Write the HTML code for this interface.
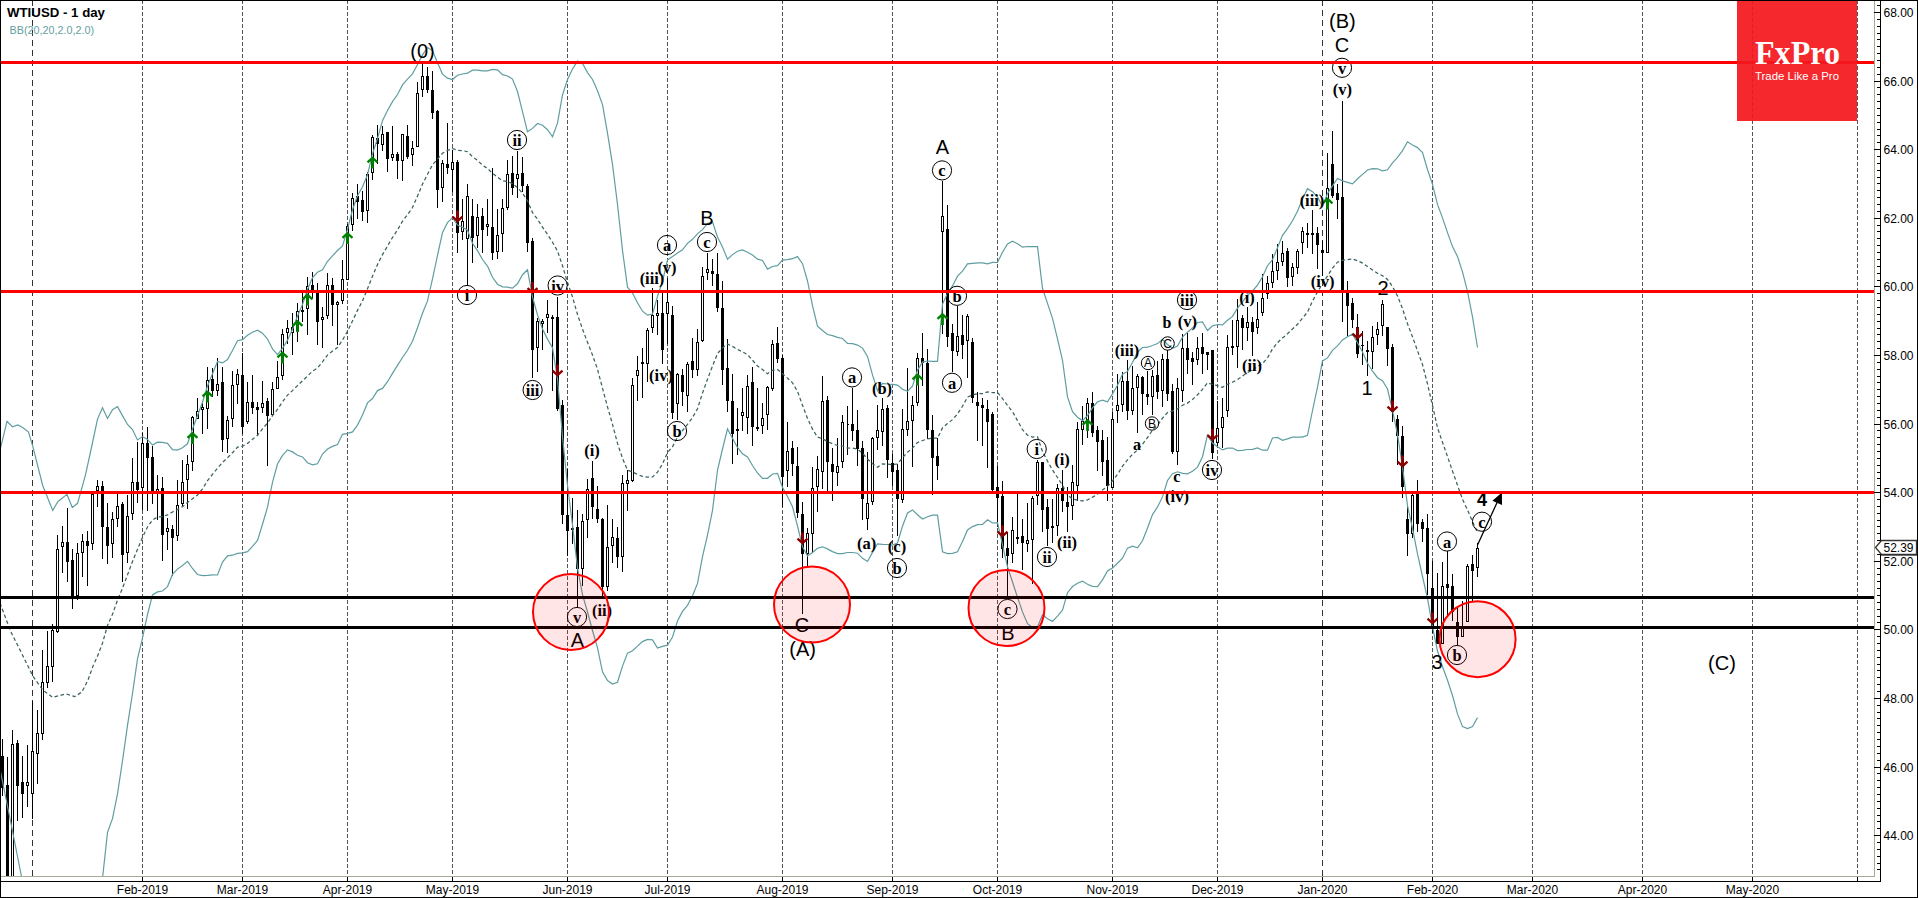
<!DOCTYPE html><html><head><meta charset="utf-8"><title>WTIUSD - 1 day</title>
<style>html,body{margin:0;padding:0;background:#fff;overflow:hidden}svg{display:block}.ar{font-family:"Liberation Sans",Arial,sans-serif}.tm{font-family:"Liberation Serif","Times New Roman",serif;font-weight:bold}</style></head><body>
<svg width="1918" height="898" viewBox="0 0 1918 898">
<rect x="0" y="0" width="1918" height="898" fill="#fff"/>
<g stroke-width="1" shape-rendering="crispEdges">
<line x1="32.5" y1="0" x2="32.5" y2="876" stroke="#333" stroke-dasharray="6,4"/>
<line x1="142.5" y1="0" x2="142.5" y2="876" stroke="#555" stroke-dasharray="4,2"/>
<line x1="242.5" y1="0" x2="242.5" y2="876" stroke="#555" stroke-dasharray="4,2"/>
<line x1="347.5" y1="0" x2="347.5" y2="876" stroke="#555" stroke-dasharray="4,2"/>
<line x1="452.5" y1="0" x2="452.5" y2="876" stroke="#555" stroke-dasharray="4,2"/>
<line x1="567.5" y1="0" x2="567.5" y2="876" stroke="#555" stroke-dasharray="4,2"/>
<line x1="667.5" y1="0" x2="667.5" y2="876" stroke="#555" stroke-dasharray="4,2"/>
<line x1="782.5" y1="0" x2="782.5" y2="876" stroke="#555" stroke-dasharray="4,2"/>
<line x1="892.5" y1="0" x2="892.5" y2="876" stroke="#555" stroke-dasharray="4,2"/>
<line x1="997.5" y1="0" x2="997.5" y2="876" stroke="#555" stroke-dasharray="4,2"/>
<line x1="1112.5" y1="0" x2="1112.5" y2="876" stroke="#555" stroke-dasharray="4,2"/>
<line x1="1217.5" y1="0" x2="1217.5" y2="876" stroke="#555" stroke-dasharray="4,2"/>
<line x1="1322.5" y1="0" x2="1322.5" y2="876" stroke="#333" stroke-dasharray="6,4"/>
<line x1="1432.5" y1="0" x2="1432.5" y2="876" stroke="#555" stroke-dasharray="4,2"/>
<line x1="1532.5" y1="0" x2="1532.5" y2="876" stroke="#555" stroke-dasharray="4,2"/>
<line x1="1642.5" y1="0" x2="1642.5" y2="876" stroke="#555" stroke-dasharray="4,2"/>
<line x1="1752.5" y1="0" x2="1752.5" y2="876" stroke="#555" stroke-dasharray="4,2"/>
<line x1="1857.5" y1="0" x2="1857.5" y2="876" stroke="#555" stroke-dasharray="4,2"/>
</g>
<clipPath id="cp"><rect x="1" y="1" width="1873" height="875"/></clipPath>
<g clip-path="url(#cp)" shape-rendering="crispEdges">
<path d="M2.5 739V796M7.5 757V900M12.5 730V900M17.5 740V821M22.5 756V818M27.5 745V807M32.5 701V819M37.5 710V784M42.5 650V740M47.5 631V688M52.5 624V682M57.5 535V633M62.5 526V573M67.5 508V582M72.5 549V609M77.5 543V600M82.5 534V577M87.5 531V586M92.5 491V550M97.5 480V507M102.5 481V559M107.5 503V564M112.5 512V558M117.5 494V527M122.5 502V582M127.5 495V563M132.5 458V520M137.5 442V503M142.5 433V510M147.5 427V511M152.5 446V504M157.5 475V520M162.5 477V561M167.5 518V550M172.5 525V576M177.5 480V541M182.5 460V506M187.5 455V509M192.5 416V471M197.5 398V419M202.5 403V434M207.5 367V429M212.5 368V397M217.5 358V396M222.5 367V452M227.5 416V453M232.5 371V427M237.5 369V404M242.5 353V434M247.5 382V424M252.5 375V414M257.5 402V435M262.5 381V413M267.5 398V466M272.5 382V416M277.5 361V389M282.5 329V380M287.5 320V344M292.5 313V355M297.5 303V342M302.5 293V322M307.5 277V335M312.5 272V298M317.5 283V345M322.5 307V348M327.5 273V319M332.5 278V326M337.5 301V345M342.5 260V304M347.5 224V280M352.5 193V231M357.5 184V219M362.5 191V221M367.5 172V223M372.5 135V180M377.5 125V164M382.5 126V151M387.5 132V172M392.5 126V161M397.5 152V179M402.5 134V181M407.5 125V159M412.5 141V166M417.5 82V147M422.5 64V97M427.5 67V93M432.5 71V119M437.5 110V208M442.5 160V202M447.5 123V174M452.5 150V192M457.5 160V253M462.5 199V240M467.5 184V286M472.5 199V263M477.5 204V248M482.5 208V253M487.5 199V236M492.5 168V260M497.5 209V259M502.5 199V252M507.5 160V210M512.5 156V195M517.5 151V198M522.5 157V192M527.5 184V252M532.5 238V378M537.5 318V372M542.5 319V350M547.5 300V333M552.5 315V391M557.5 297V411M562.5 400V524M567.5 469V556M572.5 498V544M577.5 510V608M582.5 514V586M587.5 479V538M592.5 461V519M597.5 486V523M602.5 518V596M607.5 505V591M612.5 519V563M617.5 527V568M622.5 475V572M627.5 470V511M632.5 378V482M637.5 356V401M642.5 348V398M647.5 328V382M652.5 288V333M657.5 300V335M662.5 293V364M667.5 278V344M672.5 306V419M677.5 373V420M682.5 369V406M687.5 362V412M692.5 338V378M697.5 329V376M702.5 267V342M707.5 253V280M712.5 259V286M717.5 253V312M722.5 281V385M727.5 339V412M732.5 374V464M737.5 408V455M742.5 388V431M747.5 375V434M752.5 367V446M757.5 388V431M762.5 403V434M767.5 386V430M772.5 340V391M777.5 327V363M782.5 355V507M787.5 422V487M792.5 441V476M797.5 447V518M802.5 502V614M807.5 528V567M812.5 467V553M817.5 456V512M822.5 376V489M827.5 396V491M832.5 448V501M837.5 438V486M842.5 415V468M847.5 406V455M852.5 388V441M857.5 410V466M862.5 441V520M867.5 452V530M872.5 437V505M877.5 405V450M882.5 398V446M887.5 405V478M892.5 454V486M897.5 464V536M902.5 409V503M907.5 368V436M912.5 396V467M917.5 353V406M922.5 333V386M927.5 349V439M932.5 415V495M937.5 438V480M942.5 181V334M947.5 205V347M952.5 324V372M957.5 306V356M962.5 315V359M967.5 314V378M972.5 338V403M977.5 392V441M982.5 398V446M987.5 400V468M992.5 412V494M997.5 466V527M1002.5 481V558M1007.5 532V596M1012.5 517V563M1017.5 494V544M1022.5 519V570M1027.5 503V552M1032.5 496V584M1037.5 460V505M1042.5 462V532M1047.5 499V546M1052.5 499V543M1057.5 484V536M1062.5 470V512M1067.5 487V532M1072.5 465V520M1077.5 422V501M1082.5 406V445M1087.5 398V438M1092.5 392V437M1097.5 426V471M1102.5 430V476M1107.5 437V501M1112.5 412V488M1117.5 374V423M1122.5 372V412M1127.5 360V420M1132.5 366V415M1137.5 374V433M1142.5 376V415M1147.5 371V405M1152.5 370V415M1157.5 361V399M1162.5 354V407M1167.5 350V401M1172.5 384V454M1177.5 378V465M1182.5 334V402M1187.5 333V374M1192.5 352V385M1197.5 337V365M1202.5 333V374M1207.5 352V370M1212.5 350V459M1217.5 401V446M1222.5 398V448M1227.5 335V417M1232.5 320V355M1237.5 299V368M1242.5 315V350M1247.5 307V341M1252.5 317V356M1257.5 302V334M1262.5 274V316M1267.5 276V299M1272.5 254V288M1277.5 244V280M1282.5 241V266M1287.5 248V287M1292.5 263V286M1297.5 249V274M1302.5 227V254M1307.5 223V248M1312.5 210V254M1317.5 227V269M1322.5 241V276M1327.5 153V253M1332.5 131V198M1337.5 184V219M1342.5 101V322M1347.5 281V336M1352.5 298V328M1357.5 314V358M1362.5 331V365M1367.5 341V376M1372.5 326V369M1377.5 322V345M1382.5 300V336M1387.5 327V366M1392.5 344V422M1397.5 415V465M1402.5 426V498M1407.5 506V556M1412.5 494V538M1417.5 480V532M1422.5 519V542M1427.5 514V595M1432.5 561V633M1437.5 573V644M1442.5 562V644M1447.5 551V617M1452.5 574V621M1457.5 607V646M1462.5 601V637M1467.5 564V622M1472.5 555V602M1477.5 543V577" stroke="#000" stroke-width="1" fill="none"/>
<path d="M1 756h3V788h-3zM6 785h3V900h-3zM16 743h3V786h-3zM21 782h3V794h-3zM66 542h3V562h-3zM71 560h3V596h-3zM86 541h3V546h-3zM101 486h3V527h-3zM106 527h3V546h-3zM121 504h3V555h-3zM136 482h3V490h-3zM146 443h3V458h-3zM151 457h3V491h-3zM161 488h3V535h-3zM171 529h3V538h-3zM211 379h3V391h-3zM221 382h3V440h-3zM241 375h3V427h-3zM251 402h3V408h-3zM256 407h3V410h-3zM266 401h3V416h-3zM311 285h3V292h-3zM316 293h3V322h-3zM331 285h3V305h-3zM356 196h3V202h-3zM361 200h3V212h-3zM376 138h3V144h-3zM386 132h3V159h-3zM396 154h3V161h-3zM406 136h3V157h-3zM426 76h3V90h-3zM431 90h3V113h-3zM436 111h3V190h-3zM446 164h3V168h-3zM456 162h3V233h-3zM471 216h3V238h-3zM481 216h3V230h-3zM491 227h3V253h-3zM511 173h3V188h-3zM521 173h3V186h-3zM526 186h3V243h-3zM531 241h3V350h-3zM551 317h3V319h-3zM556 317h3V409h-3zM561 405h3V515h-3zM566 515h3V531h-3zM576 527h3V569h-3zM591 478h3V507h-3zM596 509h3V519h-3zM601 519h3V587h-3zM616 538h3V557h-3zM661 313h3V350h-3zM671 315h3V413h-3zM681 375h3V392h-3zM691 361h3V370h-3zM711 271h3V274h-3zM716 274h3V308h-3zM721 308h3V370h-3zM726 368h3V401h-3zM731 401h3V434h-3zM751 382h3V427h-3zM756 427h3V429h-3zM776 343h3V359h-3zM781 358h3V477h-3zM791 448h3V464h-3zM796 466h3V513h-3zM801 514h3V554h-3zM826 400h3V462h-3zM831 464h3V472h-3zM851 424h3V431h-3zM856 430h3V449h-3zM861 448h3V499h-3zM886 408h3V460h-3zM891 463h3V472h-3zM896 470h3V499h-3zM921 358h3V363h-3zM926 363h3V430h-3zM931 430h3V458h-3zM936 456h3V466h-3zM946 229h3V337h-3zM951 333h3V351h-3zM961 335h3V345h-3zM971 342h3V398h-3zM976 402h3V406h-3zM981 405h3V408h-3zM986 409h3V422h-3zM991 414h3V490h-3zM996 487h3V498h-3zM1001 496h3V549h-3zM1006 548h3V556h-3zM1021 536h3V543h-3zM1041 462h3V510h-3zM1046 507h3V529h-3zM1061 488h3V501h-3zM1066 502h3V507h-3zM1091 403h3V433h-3zM1096 430h3V442h-3zM1101 440h3V462h-3zM1106 460h3V486h-3zM1126 381h3V411h-3zM1141 377h3V394h-3zM1146 394h3V397h-3zM1156 375h3V392h-3zM1166 359h3V394h-3zM1171 391h3V452h-3zM1186 348h3V360h-3zM1191 358h3V362h-3zM1201 347h3V354h-3zM1206 352h3V355h-3zM1211 350h3V453h-3zM1231 346h3V348h-3zM1241 318h3V328h-3zM1251 322h3V332h-3zM1286 251h3V278h-3zM1311 233h3V235h-3zM1316 233h3V245h-3zM1321 250h3V253h-3zM1331 164h3V196h-3zM1336 193h3V200h-3zM1341 197h3V293h-3zM1346 293h3V306h-3zM1351 303h3V320h-3zM1356 327h3V354h-3zM1361 345h3V346h-3zM1366 350h3V352h-3zM1386 327h3V349h-3zM1391 347h3V412h-3zM1396 419h3V436h-3zM1401 436h3V487h-3zM1406 519h3V534h-3zM1416 494h3V524h-3zM1421 522h3V529h-3zM1426 528h3V574h-3zM1431 588h3V628h-3zM1436 630h3V644h-3zM1446 584h3V588h-3zM1451 586h3V612h-3zM1456 622h3V637h-3zM1471 564h3V571h-3z" fill="#000"/>
<path d="M11.5 744.5h2V899.5h-2zM26.5 782.5h2V785.5h-2zM31.5 751.5h2V793.5h-2zM36.5 733.5h2V753.5h-2zM41.5 682.5h2V733.5h-2zM46.5 666.5h2V682.5h-2zM51.5 630.5h2V666.5h-2zM56.5 549.5h2V631.5h-2zM61.5 542.5h2V546.5h-2zM76.5 553.5h2V595.5h-2zM81.5 541.5h2V552.5h-2zM91.5 494.5h2V543.5h-2zM96.5 486.5h2V490.5h-2zM111.5 519.5h2V543.5h-2zM116.5 506.5h2V518.5h-2zM126.5 516.5h2V552.5h-2zM131.5 482.5h2V513.5h-2zM141.5 443.5h2V487.5h-2zM156.5 489.5h2V493.5h-2zM166.5 528.5h2V531.5h-2zM176.5 505.5h2V535.5h-2zM181.5 482.5h2V503.5h-2zM186.5 464.5h2V479.5h-2zM191.5 417.5h2V461.5h-2zM196.5 411.5h2V418.5h-2zM201.5 407.5h2V409.5h-2zM206.5 380.5h2V408.5h-2zM216.5 384.5h2V390.5h-2zM226.5 420.5h2V438.5h-2zM231.5 385.5h2V418.5h-2zM236.5 374.5h2V384.5h-2zM246.5 402.5h2V421.5h-2zM261.5 403.5h2V407.5h-2zM271.5 389.5h2V414.5h-2zM276.5 377.5h2V388.5h-2zM281.5 334.5h2V375.5h-2zM286.5 328.5h2V332.5h-2zM291.5 327.5h2V332.5h-2zM296.5 311.5h2V330.5h-2zM301.5 310.5h2V311.5h-2zM306.5 286.5h2V308.5h-2zM321.5 317.5h2V319.5h-2zM326.5 285.5h2V315.5h-2zM336.5 302.5h2V304.5h-2zM341.5 279.5h2V300.5h-2zM346.5 226.5h2V279.5h-2zM351.5 198.5h2V224.5h-2zM366.5 174.5h2V210.5h-2zM371.5 137.5h2V172.5h-2zM381.5 134.5h2V144.5h-2zM391.5 154.5h2V157.5h-2zM401.5 134.5h2V160.5h-2zM411.5 148.5h2V154.5h-2zM416.5 93.5h2V146.5h-2zM421.5 76.5h2V89.5h-2zM441.5 163.5h2V187.5h-2zM451.5 162.5h2V169.5h-2zM461.5 221.5h2V231.5h-2zM466.5 196.5h2V238.5h-2zM476.5 217.5h2V235.5h-2zM486.5 224.5h2V226.5h-2zM496.5 235.5h2V251.5h-2zM501.5 208.5h2V233.5h-2zM506.5 174.5h2V207.5h-2zM516.5 174.5h2V178.5h-2zM536.5 321.5h2V347.5h-2zM541.5 321.5h2V323.5h-2zM546.5 314.5h2V317.5h-2zM571.5 528.5h2V529.5h-2zM581.5 521.5h2V568.5h-2zM586.5 489.5h2V519.5h-2zM606.5 547.5h2V586.5h-2zM611.5 537.5h2V545.5h-2zM621.5 483.5h2V556.5h-2zM626.5 480.5h2V483.5h-2zM631.5 385.5h2V480.5h-2zM636.5 370.5h2V375.5h-2zM641.5 362.5h2V363.5h-2zM646.5 330.5h2V363.5h-2zM651.5 315.5h2V327.5h-2zM656.5 313.5h2V315.5h-2zM666.5 302.5h2V313.5h-2zM676.5 374.5h2V403.5h-2zM686.5 364.5h2V395.5h-2zM696.5 342.5h2V369.5h-2zM701.5 276.5h2V340.5h-2zM706.5 269.5h2V272.5h-2zM736.5 429.5h2V430.5h-2zM741.5 412.5h2V415.5h-2zM746.5 386.5h2V417.5h-2zM761.5 418.5h2V425.5h-2zM766.5 387.5h2V414.5h-2zM771.5 344.5h2V388.5h-2zM786.5 451.5h2V470.5h-2zM806.5 533.5h2V553.5h-2zM811.5 488.5h2V533.5h-2zM816.5 469.5h2V486.5h-2zM821.5 401.5h2V471.5h-2zM836.5 466.5h2V472.5h-2zM841.5 422.5h2V461.5h-2zM846.5 424.5h2V424.5h-2zM866.5 503.5h2V518.5h-2zM871.5 438.5h2V501.5h-2zM876.5 430.5h2V437.5h-2zM881.5 409.5h2V431.5h-2zM901.5 429.5h2V499.5h-2zM906.5 421.5h2V429.5h-2zM911.5 405.5h2V420.5h-2zM916.5 358.5h2V402.5h-2zM941.5 216.5h2V231.5h-2zM956.5 336.5h2V351.5h-2zM966.5 316.5h2V340.5h-2zM1011.5 530.5h2V553.5h-2zM1016.5 537.5h2V538.5h-2zM1026.5 540.5h2V543.5h-2zM1031.5 498.5h2V539.5h-2zM1036.5 462.5h2V495.5h-2zM1051.5 526.5h2V527.5h-2zM1056.5 488.5h2V525.5h-2zM1071.5 482.5h2V505.5h-2zM1076.5 429.5h2V485.5h-2zM1081.5 421.5h2V429.5h-2zM1086.5 403.5h2V420.5h-2zM1111.5 419.5h2V487.5h-2zM1116.5 405.5h2V410.5h-2zM1121.5 381.5h2V404.5h-2zM1131.5 388.5h2V410.5h-2zM1136.5 376.5h2V387.5h-2zM1151.5 376.5h2V396.5h-2zM1161.5 359.5h2V390.5h-2zM1176.5 388.5h2V451.5h-2zM1181.5 348.5h2V390.5h-2zM1196.5 348.5h2V359.5h-2zM1216.5 428.5h2V442.5h-2zM1221.5 417.5h2V427.5h-2zM1226.5 347.5h2V410.5h-2zM1236.5 320.5h2V346.5h-2zM1246.5 322.5h2V327.5h-2zM1256.5 319.5h2V327.5h-2zM1261.5 298.5h2V312.5h-2zM1266.5 283.5h2V293.5h-2zM1271.5 271.5h2V282.5h-2zM1276.5 262.5h2V270.5h-2zM1281.5 253.5h2V261.5h-2zM1291.5 267.5h2V276.5h-2zM1296.5 251.5h2V267.5h-2zM1301.5 231.5h2V242.5h-2zM1306.5 233.5h2V234.5h-2zM1326.5 188.5h2V252.5h-2zM1371.5 337.5h2V351.5h-2zM1376.5 329.5h2V334.5h-2zM1381.5 304.5h2V325.5h-2zM1411.5 495.5h2V533.5h-2zM1441.5 586.5h2V643.5h-2zM1461.5 627.5h2V636.5h-2zM1466.5 566.5h2V621.5h-2zM1476.5 548.5h2V567.5h-2z" fill="#fff" stroke="#000" stroke-width="1"/>
</g>
<g clip-path="url(#cp)" fill="none">
<polyline points="0.0,450.0 7.0,421.4 12.5,426.7 17.8,425.0 23.0,427.8 28.5,432.0 32.8,446.3 42.7,485.5 52.7,510.4 58.0,501.5 67.0,494.4 72.3,507.5 77.6,503.3 85.5,474.8 92.0,445.0 97.5,419.1 102.5,407.8 107.5,418.5 112.5,409.8 117.5,406.6 122.5,415.6 127.5,424.5 132.5,429.5 137.5,439.9 142.5,436.6 147.5,439.4 152.5,445.1 157.5,442.2 162.5,442.3 167.5,443.3 172.5,449.7 177.5,450.1 182.5,447.8 187.5,443.8 192.5,429.0 197.5,415.5 202.5,402.3 207.5,386.0 212.5,373.7 217.5,361.4 222.5,362.9 227.5,359.6 232.5,350.5 237.5,340.7 242.5,339.6 247.5,335.2 252.5,332.3 257.5,330.2 262.5,333.2 267.5,339.1 272.5,349.0 277.5,354.6 282.5,348.4 287.5,340.3 292.5,329.3 297.5,316.0 302.5,304.6 307.5,289.5 312.5,277.5 317.5,272.3 322.5,269.8 327.5,261.3 332.5,255.9 337.5,250.5 342.5,245.9 347.5,229.3 352.5,209.8 357.5,195.8 362.5,186.8 367.5,174.7 372.5,153.9 377.5,138.5 382.5,120.7 387.5,110.5 392.5,101.6 397.5,94.5 402.5,84.9 407.5,79.1 412.5,73.8 417.5,64.5 422.5,54.9 427.5,47.6 432.5,50.6 437.5,62.8 442.5,74.1 447.5,78.1 452.5,79.5 457.5,75.2 462.5,74.0 467.5,73.2 472.5,70.2 477.5,70.2 482.5,70.9 487.5,70.8 492.5,69.4 497.5,69.9 502.5,74.7 507.5,76.0 512.5,79.1 517.5,91.5 522.5,111.6 527.5,131.8 532.5,128.4 537.5,123.5 542.5,125.3 547.5,129.7 552.5,136.8 557.5,123.2 562.5,94.8 567.5,79.5 572.5,69.0 577.5,61.1 582.5,63.5 587.5,72.6 592.5,79.5 597.5,90.7 602.5,104.6 607.5,133.1 612.5,164.4 617.5,204.5 622.5,250.4 627.5,287.2 632.5,293.0 637.5,302.7 642.5,311.2 647.5,315.1 652.5,314.1 657.5,296.4 662.5,281.5 667.5,259.9 672.5,256.6 677.5,253.1 682.5,249.8 687.5,243.4 692.5,239.3 697.5,233.9 702.5,229.6 707.5,223.4 712.5,221.7 717.5,236.9 722.5,247.0 727.5,259.2 732.5,254.6 737.5,251.2 742.5,250.0 747.5,252.3 752.5,255.0 757.5,259.1 762.5,260.5 767.5,269.1 772.5,266.5 777.5,265.6 782.5,260.1 787.5,259.7 792.5,258.7 797.5,256.6 802.5,263.7 807.5,281.0 812.5,305.7 817.5,326.1 822.5,330.5 827.5,334.5 832.5,335.7 837.5,337.4 842.5,338.5 847.5,343.4 852.5,343.7 857.5,345.1 862.5,348.1 867.5,356.4 872.5,374.9 877.5,390.7 882.5,383.3 887.5,384.0 892.5,384.3 897.5,385.1 902.5,389.3 907.5,391.3 912.5,386.1 917.5,370.1 922.5,362.1 927.5,361.0 932.5,361.3 937.5,361.3 942.5,304.1 947.5,293.6 952.5,285.9 957.5,276.2 962.5,271.1 967.5,263.9 972.5,263.3 977.5,262.9 982.5,262.9 987.5,263.8 992.5,262.4 997.5,262.5 1002.5,252.3 1007.5,243.9 1012.5,241.2 1017.5,243.7 1022.5,247.2 1027.5,246.5 1032.5,246.7 1037.5,246.6 1042.5,288.3 1047.5,303.4 1052.5,318.3 1057.5,338.8 1062.5,360.4 1067.5,396.9 1072.5,411.6 1077.5,417.2 1082.5,420.6 1087.5,415.5 1092.5,407.8 1097.5,401.8 1102.5,400.1 1107.5,401.8 1112.5,393.9 1117.5,385.3 1122.5,374.2 1127.5,371.4 1132.5,362.5 1137.5,352.2 1142.5,347.5 1147.5,347.2 1152.5,345.5 1157.5,343.6 1162.5,339.4 1167.5,344.5 1172.5,348.2 1177.5,346.0 1182.5,337.2 1187.5,332.2 1192.5,327.9 1197.5,322.5 1202.5,322.0 1207.5,330.5 1212.5,325.8 1217.5,324.5 1222.5,324.9 1227.5,320.3 1232.5,316.4 1237.5,308.2 1242.5,301.9 1247.5,295.2 1252.5,291.0 1257.5,285.1 1262.5,276.8 1267.5,265.7 1272.5,259.8 1277.5,247.8 1282.5,235.4 1287.5,228.6 1292.5,220.8 1297.5,211.2 1302.5,199.0 1307.5,188.7 1312.5,191.7 1317.5,196.8 1322.5,206.5 1327.5,193.6 1332.5,185.9 1337.5,178.4 1342.5,180.9 1347.5,182.3 1352.5,183.8 1357.5,178.8 1362.5,174.4 1367.5,170.0 1372.5,168.6 1377.5,168.8 1382.5,170.9 1387.5,169.8 1392.5,162.9 1397.5,157.4 1402.5,150.6 1407.5,141.8 1412.5,145.1 1417.5,147.6 1422.5,152.6 1427.5,169.5 1432.5,184.3 1437.5,204.4 1442.5,217.9 1447.5,232.6 1452.5,246.6 1457.5,256.5 1462.5,271.9 1467.5,291.4 1472.5,316.8 1477.5,347.5" stroke="#5f9ea0" stroke-width="1.2"/>
<polyline points="0.0,769.0 10.7,822.0 21.4,876.0 26.0,900.0" stroke="#5f9ea0" stroke-width="1.2"/>
<polyline points="97.5,893.3 102.5,878.5 107.5,832.4 112.5,818.6 117.5,793.8 122.5,760.8 127.5,725.4 132.5,693.5 137.5,658.8 142.5,638.1 147.5,614.5 152.5,594.9 157.5,591.9 162.5,591.0 167.5,586.6 172.5,574.4 177.5,569.1 182.5,565.5 187.5,561.4 192.5,568.5 197.5,574.5 202.5,575.7 207.5,575.4 212.5,574.9 217.5,575.0 222.5,562.1 227.5,555.8 232.5,555.2 237.5,553.4 242.5,552.9 247.5,551.7 252.5,546.3 257.5,540.5 262.5,524.3 267.5,507.2 272.5,482.4 277.5,464.0 282.5,455.4 287.5,449.9 292.5,451.9 297.5,455.2 302.5,456.9 307.5,462.7 312.5,464.8 317.5,463.8 322.5,454.0 327.5,449.0 332.5,446.4 337.5,444.5 342.5,434.3 347.5,433.3 352.5,431.9 357.5,425.1 362.5,414.9 367.5,402.9 372.5,398.5 377.5,390.6 382.5,388.4 387.5,381.7 392.5,373.4 397.5,365.4 402.5,357.5 407.5,350.3 412.5,341.2 417.5,327.7 422.5,313.2 427.5,300.9 432.5,278.8 437.5,255.4 442.5,232.5 447.5,222.7 452.5,217.7 457.5,225.1 462.5,227.2 467.5,230.2 472.5,243.3 477.5,250.6 482.5,259.5 487.5,266.1 492.5,277.3 497.5,284.2 502.5,286.9 507.5,287.2 512.5,288.1 517.5,283.8 522.5,274.7 527.5,269.8 532.5,296.8 537.5,314.9 542.5,328.9 547.5,339.1 552.5,347.6 557.5,378.8 562.5,436.6 567.5,485.4 572.5,524.9 577.5,568.0 582.5,594.6 587.5,612.0 592.5,630.5 597.5,647.8 602.5,671.8 607.5,680.5 612.5,684.1 617.5,682.3 622.5,666.1 627.5,653.1 632.5,650.8 637.5,646.1 642.5,641.6 647.5,639.4 652.5,639.9 657.5,648.1 662.5,646.4 667.5,645.2 672.5,637.0 677.5,621.1 682.5,611.4 687.5,605.3 692.5,595.8 697.5,583.4 702.5,556.6 707.5,535.1 712.5,510.4 717.5,470.3 722.5,449.0 727.5,428.9 732.5,438.3 737.5,447.5 742.5,453.7 747.5,457.0 752.5,465.5 757.5,473.0 762.5,478.4 767.5,478.3 772.5,474.0 777.5,473.3 782.5,487.4 787.5,496.5 792.5,506.8 797.5,526.0 802.5,546.7 807.5,555.8 812.5,552.5 817.5,548.2 822.5,546.8 827.5,548.9 832.5,551.6 837.5,553.6 842.5,553.6 847.5,552.5 852.5,552.5 857.5,553.2 862.5,558.3 867.5,561.5 872.5,552.4 877.5,543.8 882.5,544.3 887.5,544.5 892.5,545.1 897.5,543.0 902.5,526.2 907.5,513.0 912.5,509.9 917.5,514.8 922.5,519.0 927.5,516.8 932.5,515.2 937.5,515.2 942.5,551.8 947.5,553.6 952.5,553.4 957.5,551.8 962.5,541.4 967.5,530.0 972.5,526.6 977.5,524.6 982.5,524.5 987.5,519.8 992.5,523.0 997.5,522.7 1002.5,544.9 1007.5,566.8 1012.5,582.0 1017.5,597.4 1022.5,611.9 1027.5,623.7 1032.5,627.4 1037.5,627.1 1042.5,614.8 1047.5,618.8 1052.5,621.4 1057.5,616.1 1062.5,610.1 1067.5,592.7 1072.5,586.5 1077.5,583.2 1082.5,581.1 1087.5,584.3 1092.5,586.3 1097.5,586.7 1102.5,579.8 1107.5,571.0 1112.5,567.9 1117.5,563.2 1122.5,558.2 1127.5,548.1 1132.5,546.1 1137.5,547.8 1142.5,540.8 1147.5,528.0 1152.5,514.6 1157.5,506.9 1162.5,496.9 1167.5,480.5 1172.5,473.7 1177.5,471.8 1182.5,473.3 1187.5,473.9 1192.5,471.2 1197.5,467.1 1202.5,456.7 1207.5,435.1 1212.5,443.1 1217.5,446.7 1222.5,449.9 1227.5,448.1 1232.5,448.0 1237.5,450.6 1242.5,450.3 1247.5,449.5 1252.5,449.3 1257.5,447.9 1262.5,450.2 1267.5,450.2 1272.5,438.0 1277.5,437.4 1282.5,440.3 1287.5,438.9 1292.5,437.2 1297.5,437.2 1302.5,437.1 1307.5,435.3 1312.5,410.5 1317.5,387.1 1322.5,360.9 1327.5,357.9 1332.5,350.4 1337.5,345.9 1342.5,339.9 1347.5,336.8 1352.5,334.1 1357.5,342.7 1362.5,351.9 1367.5,363.2 1372.5,371.2 1377.5,377.7 1382.5,380.7 1387.5,389.0 1392.5,410.4 1397.5,434.4 1402.5,466.9 1407.5,505.7 1412.5,528.5 1417.5,553.9 1422.5,576.5 1427.5,598.3 1432.5,626.6 1437.5,651.0 1442.5,666.7 1447.5,680.3 1452.5,695.5 1457.5,713.9 1462.5,726.6 1467.5,728.5 1472.5,726.5 1477.5,717.6" stroke="#5f9ea0" stroke-width="1.2"/>
<polyline points="0.0,603.0 10.7,631.5 21.4,652.8 32.8,676.0 42.7,690.0 52.7,697.4 65.9,693.8 74.8,696.6 81.9,692.0 88.0,680.0 93.3,665.3 97.5,656.2 102.5,643.1 107.5,625.5 112.5,614.2 117.5,600.2 122.5,588.2 127.5,574.9 132.5,561.5 137.5,549.3 142.5,537.4 147.5,527.0 152.5,520.0 157.5,517.0 162.5,516.6 167.5,514.9 172.5,512.0 177.5,509.6 182.5,506.7 187.5,502.6 192.5,498.8 197.5,495.0 202.5,489.0 207.5,480.7 212.5,474.3 217.5,468.2 222.5,462.5 227.5,457.7 232.5,452.8 237.5,447.1 242.5,446.2 247.5,443.4 252.5,439.3 257.5,435.3 262.5,428.8 267.5,423.1 272.5,415.7 277.5,409.3 282.5,401.9 287.5,395.1 292.5,390.6 297.5,385.6 302.5,380.8 307.5,376.1 312.5,371.1 317.5,368.1 322.5,361.9 327.5,355.1 332.5,351.1 337.5,347.5 342.5,340.1 347.5,331.3 352.5,320.9 357.5,310.4 362.5,300.9 367.5,288.8 372.5,276.2 377.5,264.6 382.5,254.6 387.5,246.1 392.5,237.5 397.5,230.0 402.5,221.2 407.5,214.7 412.5,207.5 417.5,196.1 422.5,184.1 427.5,174.3 432.5,164.7 437.5,159.1 442.5,153.3 447.5,150.4 452.5,148.6 457.5,150.2 462.5,150.6 467.5,151.7 472.5,156.7 477.5,160.4 482.5,165.2 487.5,168.4 492.5,173.4 497.5,177.1 502.5,180.8 507.5,181.6 512.5,183.6 517.5,187.7 522.5,193.1 527.5,200.8 532.5,212.6 537.5,219.2 542.5,227.1 547.5,234.4 552.5,242.2 557.5,251.0 562.5,265.7 567.5,282.4 572.5,296.9 577.5,314.5 582.5,329.1 587.5,342.3 592.5,355.0 597.5,369.2 602.5,388.2 607.5,406.8 612.5,424.3 617.5,443.4 622.5,458.3 627.5,470.1 632.5,471.9 637.5,474.4 642.5,476.4 647.5,477.2 652.5,477.0 657.5,472.2 662.5,464.0 667.5,452.5 672.5,446.8 677.5,437.1 682.5,430.6 687.5,424.3 692.5,417.5 697.5,408.7 702.5,393.1 707.5,379.2 712.5,366.1 717.5,353.6 722.5,348.0 727.5,344.0 732.5,346.4 737.5,349.4 742.5,351.9 747.5,354.6 752.5,360.2 757.5,366.1 762.5,369.5 767.5,373.7 772.5,370.3 777.5,369.5 782.5,373.7 787.5,378.1 792.5,382.8 797.5,391.3 802.5,405.2 807.5,418.4 812.5,429.1 817.5,437.1 822.5,438.7 827.5,441.7 832.5,443.7 837.5,445.5 842.5,446.0 847.5,447.9 852.5,448.1 857.5,449.1 862.5,453.2 867.5,459.0 872.5,463.7 877.5,467.2 882.5,463.8 887.5,464.2 892.5,464.7 897.5,464.0 902.5,457.7 907.5,452.2 912.5,448.0 917.5,442.5 922.5,440.5 927.5,438.9 932.5,438.2 937.5,438.2 942.5,427.9 947.5,423.6 952.5,419.6 957.5,414.0 962.5,406.3 967.5,397.0 972.5,394.9 977.5,393.7 982.5,393.7 987.5,391.8 992.5,392.7 997.5,392.6 1002.5,398.6 1007.5,405.4 1012.5,411.6 1017.5,420.6 1022.5,429.6 1027.5,435.1 1032.5,437.1 1037.5,436.8 1042.5,451.5 1047.5,461.1 1052.5,469.9 1057.5,477.5 1062.5,485.3 1067.5,494.8 1072.5,499.1 1077.5,500.2 1082.5,500.9 1087.5,499.9 1092.5,497.1 1097.5,494.3 1102.5,489.9 1107.5,486.4 1112.5,480.9 1117.5,474.3 1122.5,466.2 1127.5,459.8 1132.5,454.3 1137.5,450.0 1142.5,444.2 1147.5,437.6 1152.5,430.1 1157.5,425.3 1162.5,418.2 1167.5,412.5 1172.5,410.9 1177.5,408.9 1182.5,405.2 1187.5,403.1 1192.5,399.5 1197.5,394.8 1202.5,389.4 1207.5,382.8 1212.5,384.5 1217.5,385.6 1222.5,387.4 1227.5,384.2 1232.5,382.2 1237.5,379.4 1242.5,376.1 1247.5,372.4 1252.5,370.2 1257.5,366.5 1262.5,363.5 1267.5,357.9 1272.5,348.9 1277.5,342.6 1282.5,337.9 1287.5,333.8 1292.5,329.0 1297.5,324.2 1302.5,318.1 1307.5,312.0 1312.5,301.1 1317.5,291.9 1322.5,283.7 1327.5,275.8 1332.5,268.2 1337.5,262.2 1342.5,260.4 1347.5,259.6 1352.5,259.0 1357.5,260.7 1362.5,263.1 1367.5,266.6 1372.5,269.9 1377.5,273.2 1382.5,275.8 1387.5,279.4 1392.5,286.6 1397.5,295.9 1402.5,308.7 1407.5,323.8 1412.5,336.8 1417.5,350.8 1422.5,364.6 1427.5,383.9 1432.5,405.5 1437.5,427.7 1442.5,442.3 1447.5,456.5 1452.5,471.1 1457.5,485.2 1462.5,499.3 1467.5,509.9 1472.5,521.6 1477.5,532.5" stroke="#3a6262" stroke-width="1.25" stroke-dasharray="3.6,2.6"/>
</g>
<path d="M187.5 437.8L192.5 433.3L197.5 437.8" stroke="#008000" stroke-width="2.3" fill="none"/><rect x="191.1" y="434.0" width="2.8" height="10" fill="#008000"/>
<path d="M202.5 396.3L207.5 391.8L212.5 396.3" stroke="#008000" stroke-width="2.3" fill="none"/><rect x="206.1" y="392.5" width="2.8" height="10" fill="#008000"/>
<path d="M277.5 357.3L282.5 352.8L287.5 357.3" stroke="#008000" stroke-width="2.3" fill="none"/><rect x="281.1" y="353.5" width="2.8" height="10" fill="#008000"/>
<path d="M292.5 325.90000000000003L297.5 321.40000000000003L302.5 325.90000000000003" stroke="#008000" stroke-width="2.3" fill="none"/><rect x="296.1" y="322.1" width="2.8" height="10" fill="#008000"/>
<path d="M302.5 299.3L307.5 294.8L312.5 299.3" stroke="#008000" stroke-width="2.3" fill="none"/><rect x="306.1" y="295.5" width="2.8" height="10" fill="#008000"/>
<path d="M342.5 237.8L347.5 233.3L352.5 237.8" stroke="#008000" stroke-width="2.3" fill="none"/><rect x="346.1" y="234.0" width="2.8" height="10" fill="#008000"/>
<path d="M367.5 162.3L372.5 157.8L377.5 162.3" stroke="#008000" stroke-width="2.3" fill="none"/><rect x="371.1" y="158.5" width="2.8" height="10" fill="#008000"/>
<path d="M912.5 379.3L917.5 374.8L922.5 379.3" stroke="#008000" stroke-width="2.3" fill="none"/><rect x="916.1" y="375.5" width="2.8" height="10" fill="#008000"/>
<path d="M937.5 318.8L942.5 314.3L947.5 318.8" stroke="#008000" stroke-width="2.3" fill="none"/><rect x="941.1" y="315.0" width="2.8" height="10" fill="#008000"/>
<path d="M1082.5 424.8L1087.5 420.3L1092.5 424.8" stroke="#008000" stroke-width="2.3" fill="none"/><rect x="1086.1" y="421.0" width="2.8" height="10" fill="#008000"/>
<path d="M1322.5 203.3L1327.5 198.8L1332.5 203.3" stroke="#008000" stroke-width="2.3" fill="none"/><rect x="1326.1" y="199.5" width="2.8" height="10" fill="#008000"/>
<path d="M452.5 216.7L457.5 221.2L462.5 216.7" stroke="#8b0000" stroke-width="2.3" fill="none"/><rect x="456.1" y="210.5" width="2.8" height="10" fill="#8b0000"/>
<path d="M527.5 288.2L532.5 292.7L537.5 288.2" stroke="#8b0000" stroke-width="2.3" fill="none"/><rect x="531.1" y="282.0" width="2.8" height="10" fill="#8b0000"/>
<path d="M552.5 370.7L557.5 375.2L562.5 370.7" stroke="#8b0000" stroke-width="2.3" fill="none"/><rect x="556.1" y="364.5" width="2.8" height="10" fill="#8b0000"/>
<path d="M797.5 538.7L802.5 543.2L807.5 538.7" stroke="#8b0000" stroke-width="2.3" fill="none"/><rect x="801.1" y="532.5" width="2.8" height="10" fill="#8b0000"/>
<path d="M997.5 531.7L1002.5 536.2L1007.5 531.7" stroke="#8b0000" stroke-width="2.3" fill="none"/><rect x="1001.1" y="525.5" width="2.8" height="10" fill="#8b0000"/>
<path d="M1207.5 435.2L1212.5 439.7L1217.5 435.2" stroke="#8b0000" stroke-width="2.3" fill="none"/><rect x="1211.1" y="429.0" width="2.8" height="10" fill="#8b0000"/>
<path d="M1352.5 333.7L1357.5 338.2L1362.5 333.7" stroke="#8b0000" stroke-width="2.3" fill="none"/><rect x="1356.1" y="327.5" width="2.8" height="10" fill="#8b0000"/>
<path d="M1387.5 406.7L1392.5 411.2L1397.5 406.7" stroke="#8b0000" stroke-width="2.3" fill="none"/><rect x="1391.1" y="400.5" width="2.8" height="10" fill="#8b0000"/>
<path d="M1397.5 461.7L1402.5 466.2L1407.5 461.7" stroke="#8b0000" stroke-width="2.3" fill="none"/><rect x="1401.1" y="455.5" width="2.8" height="10" fill="#8b0000"/>
<path d="M1427.5 618.7L1432.5 623.2L1437.5 618.7" stroke="#8b0000" stroke-width="2.3" fill="none"/><rect x="1431.1" y="612.5" width="2.8" height="10" fill="#8b0000"/>
<line x1="1477.5" y1="545" x2="1498" y2="500.5" stroke="#000" stroke-width="1.3"/>
<path d="M1501.9 492.5L1502 505L1492.4 500.8z" fill="#000"/>
<text class="ar" x="422.5" y="58.2" font-size="20" text-anchor="middle">(0)</text>
<text class="ar" x="577.5" y="646.7" font-size="20" text-anchor="middle">A</text>
<text class="ar" x="802" y="631.8" font-size="20" text-anchor="middle">C</text>
<text class="ar" x="802.6" y="655.8" font-size="20" text-anchor="middle">(A)</text>
<text class="ar" x="707" y="225.2" font-size="20" text-anchor="middle">B</text>
<text class="ar" x="942.4" y="154.2" font-size="20" text-anchor="middle">A</text>
<text class="ar" x="1008" y="639.8" font-size="20" text-anchor="middle">B</text>
<text class="ar" x="1342.4" y="27.8" font-size="20" text-anchor="middle">(B)</text>
<text class="ar" x="1342" y="51.6" font-size="20" text-anchor="middle">C</text>
<text class="ar" x="1383" y="295.2" font-size="20" text-anchor="middle">2</text>
<text class="ar" x="1367" y="395.2" font-size="20" text-anchor="middle">1</text>
<text class="ar" x="1437" y="668.7" font-size="20" text-anchor="middle">3</text>
<text class="ar" x="1722" y="670.2" font-size="20" text-anchor="middle">(C)</text>
<text class="ar" x="1482" y="505.6" font-size="18" text-anchor="middle" font-weight="bold">4</text>
<circle cx="517" cy="140" r="9.6" fill="none" stroke="#000" stroke-width="1"/>
<text class="tm" x="517" y="146.0" font-size="16.5" text-anchor="middle">ii</text>
<circle cx="467" cy="295" r="9.6" fill="none" stroke="#000" stroke-width="1"/>
<text class="tm" x="467" y="301.0" font-size="16.5" text-anchor="middle">i</text>
<circle cx="557.6" cy="285.5" r="9.6" fill="none" stroke="#000" stroke-width="1"/>
<text class="tm" x="557.6" y="291.5" font-size="16.5" text-anchor="middle">iv</text>
<circle cx="532.6" cy="390" r="9.6" fill="none" stroke="#000" stroke-width="1"/>
<text class="tm" x="532.6" y="396.0" font-size="16.5" text-anchor="middle">iii</text>
<circle cx="577" cy="617" r="9.6" fill="none" stroke="#000" stroke-width="1"/>
<text class="tm" x="577" y="623.0" font-size="16.5" text-anchor="middle">v</text>
<circle cx="667" cy="245" r="9.6" fill="none" stroke="#000" stroke-width="1"/>
<text class="tm" x="667" y="251.0" font-size="16.5" text-anchor="middle">a</text>
<circle cx="707" cy="242" r="9.6" fill="none" stroke="#000" stroke-width="1"/>
<text class="tm" x="707" y="248.0" font-size="16.5" text-anchor="middle">c</text>
<circle cx="677" cy="431" r="9.6" fill="none" stroke="#000" stroke-width="1"/>
<text class="tm" x="677" y="437.0" font-size="16.5" text-anchor="middle">b</text>
<circle cx="852" cy="377.4" r="9.6" fill="none" stroke="#000" stroke-width="1"/>
<text class="tm" x="852" y="383.4" font-size="16.5" text-anchor="middle">a</text>
<circle cx="897" cy="568" r="9.6" fill="none" stroke="#000" stroke-width="1"/>
<text class="tm" x="897" y="574.0" font-size="16.5" text-anchor="middle">b</text>
<circle cx="942" cy="170.4" r="9.6" fill="none" stroke="#000" stroke-width="1"/>
<text class="tm" x="942" y="176.4" font-size="16.5" text-anchor="middle">c</text>
<circle cx="957" cy="295.8" r="9.6" fill="none" stroke="#000" stroke-width="1"/>
<text class="tm" x="957" y="301.8" font-size="16.5" text-anchor="middle">b</text>
<circle cx="952" cy="382.8" r="9.6" fill="none" stroke="#000" stroke-width="1"/>
<text class="tm" x="952" y="388.8" font-size="16.5" text-anchor="middle">a</text>
<circle cx="1007.5" cy="609" r="9.6" fill="none" stroke="#000" stroke-width="1"/>
<text class="tm" x="1007.5" y="615.0" font-size="16.5" text-anchor="middle">c</text>
<circle cx="1036.7" cy="449" r="9.6" fill="none" stroke="#000" stroke-width="1"/>
<text class="tm" x="1036.7" y="455.0" font-size="16.5" text-anchor="middle">i</text>
<circle cx="1047" cy="557" r="9.6" fill="none" stroke="#000" stroke-width="1"/>
<text class="tm" x="1047" y="563.0" font-size="16.5" text-anchor="middle">ii</text>
<circle cx="1187" cy="300" r="9.6" fill="none" stroke="#000" stroke-width="1"/>
<text class="tm" x="1187" y="306.0" font-size="16.5" text-anchor="middle">iii</text>
<circle cx="1212" cy="470" r="9.6" fill="none" stroke="#000" stroke-width="1"/>
<text class="tm" x="1212" y="476.0" font-size="16.5" text-anchor="middle">iv</text>
<circle cx="1342" cy="67.8" r="9.6" fill="none" stroke="#000" stroke-width="1"/>
<text class="tm" x="1342" y="73.8" font-size="16.5" text-anchor="middle">v</text>
<circle cx="1447" cy="541.5" r="9.6" fill="none" stroke="#000" stroke-width="1"/>
<text class="tm" x="1447" y="547.5" font-size="16.5" text-anchor="middle">a</text>
<circle cx="1457" cy="655" r="9.6" fill="none" stroke="#000" stroke-width="1"/>
<text class="tm" x="1457" y="661.0" font-size="16.5" text-anchor="middle">b</text>
<circle cx="1482" cy="521.7" r="9.6" fill="none" stroke="#000" stroke-width="1"/>
<text class="tm" x="1482" y="527.7" font-size="16.5" text-anchor="middle">c</text>
<circle cx="1148" cy="363" r="6.7" fill="none" stroke="#000" stroke-width="1"/>
<text class="ar" x="1148" y="367.3" font-size="12" text-anchor="middle">A</text>
<circle cx="1152" cy="423.5" r="6.7" fill="none" stroke="#000" stroke-width="1"/>
<text class="ar" x="1152" y="427.8" font-size="12" text-anchor="middle">B</text>
<circle cx="1167.6" cy="343.5" r="6.7" fill="none" stroke="#000" stroke-width="1"/>
<text class="ar" x="1167.6" y="347.8" font-size="12" text-anchor="middle">C</text>
<text class="tm" x="592" y="455.6" font-size="16.5" text-anchor="middle">(i)</text>
<text class="tm" x="602" y="616.1" font-size="16.5" text-anchor="middle">(ii)</text>
<text class="tm" x="652" y="283.6" font-size="16.5" text-anchor="middle">(iii)</text>
<text class="tm" x="661" y="381.2" font-size="16.5" text-anchor="middle">(iv)</text>
<text class="tm" x="667" y="272.6" font-size="16.5" text-anchor="middle">(v)</text>
<text class="tm" x="866.6" y="548.6" font-size="16.5" text-anchor="middle">(a)</text>
<text class="tm" x="882" y="394.0" font-size="16.5" text-anchor="middle">(b)</text>
<text class="tm" x="897" y="551.6" font-size="16.5" text-anchor="middle">(c)</text>
<text class="tm" x="1062" y="464.6" font-size="16.5" text-anchor="middle">(i)</text>
<text class="tm" x="1067" y="548.3" font-size="16.5" text-anchor="middle">(ii)</text>
<text class="tm" x="1127" y="355.6" font-size="16.5" text-anchor="middle">(iii)</text>
<text class="tm" x="1177" y="501.6" font-size="16.5" text-anchor="middle">(iv)</text>
<text class="tm" x="1187.4" y="326.6" font-size="16.5" text-anchor="middle">(v)</text>
<text class="tm" x="1247" y="302.6" font-size="16.5" text-anchor="middle">(i)</text>
<text class="tm" x="1252" y="371.4" font-size="16.5" text-anchor="middle">(ii)</text>
<text class="tm" x="1312" y="205.6" font-size="16.5" text-anchor="middle">(iii)</text>
<text class="tm" x="1322.6" y="287.3" font-size="16.5" text-anchor="middle">(iv)</text>
<text class="tm" x="1342.4" y="95.4" font-size="16.5" text-anchor="middle">(v)</text>
<text class="tm" x="1137" y="449.9" font-size="16" text-anchor="middle">a</text>
<text class="tm" x="1167" y="328.4" font-size="16" text-anchor="middle">b</text>
<text class="tm" x="1176.7" y="482.0" font-size="16" text-anchor="middle">c</text>
<g shape-rendering="crispEdges">
<rect x="1" y="61" width="1873" height="3" fill="#ff0000"/>
<rect x="1" y="290" width="1873" height="3" fill="#ff0000"/>
<rect x="1" y="491" width="1873" height="3" fill="#ff0000"/>
<rect x="1" y="596" width="1873" height="3" fill="#000"/>
<rect x="1" y="626" width="1873" height="3" fill="#000"/>
</g>
<circle cx="571" cy="612" r="38" fill="rgba(255,0,0,0.1)" stroke="#ff0000" stroke-width="2"/>
<circle cx="812" cy="604.5" r="38" fill="rgba(255,0,0,0.1)" stroke="#ff0000" stroke-width="2"/>
<circle cx="1006.5" cy="608" r="38" fill="rgba(255,0,0,0.1)" stroke="#ff0000" stroke-width="2"/>
<circle cx="1477.6" cy="639.2" r="38" fill="rgba(255,0,0,0.1)" stroke="#ff0000" stroke-width="2"/>
<rect x="1737" y="1" width="120" height="120" fill="rgb(243,24,29)" fill-opacity="0.93"/>
<text x="1797.5" y="64.4" font-family="'Liberation Serif',serif" font-weight="bold" font-size="33" fill="#fff" text-anchor="middle" textLength="85" lengthAdjust="spacingAndGlyphs">FxPro</text>
<text x="1797" y="80" class="ar" font-size="10.5" fill="#fff" text-anchor="middle" textLength="84" lengthAdjust="spacingAndGlyphs">Trade Like a Pro</text>
<g shape-rendering="crispEdges">
<rect x="1874" y="1" width="1" height="876" fill="#a9a994"/>
<rect x="1" y="876" width="1874" height="1" fill="#a9a994"/>
<rect x="1880" y="1" width="1" height="881" fill="#000"/>
<rect x="0" y="881" width="1881" height="1" fill="#000"/>
<rect x="1877" y="5" width="3" height="1" fill="#000"/><rect x="1874" y="12" width="6" height="1" fill="#000"/><rect x="1877" y="19" width="3" height="1" fill="#000"/><rect x="1877" y="26" width="3" height="1" fill="#000"/><rect x="1877" y="33" width="3" height="1" fill="#000"/><rect x="1877" y="39" width="3" height="1" fill="#000"/><rect x="1877" y="46" width="3" height="1" fill="#000"/><rect x="1877" y="53" width="3" height="1" fill="#000"/><rect x="1877" y="60" width="3" height="1" fill="#000"/><rect x="1877" y="67" width="3" height="1" fill="#000"/><rect x="1877" y="74" width="3" height="1" fill="#000"/><rect x="1874" y="81" width="6" height="1" fill="#000"/><rect x="1877" y="87" width="3" height="1" fill="#000"/><rect x="1877" y="94" width="3" height="1" fill="#000"/><rect x="1877" y="101" width="3" height="1" fill="#000"/><rect x="1877" y="108" width="3" height="1" fill="#000"/><rect x="1877" y="115" width="3" height="1" fill="#000"/><rect x="1877" y="122" width="3" height="1" fill="#000"/><rect x="1877" y="129" width="3" height="1" fill="#000"/><rect x="1877" y="135" width="3" height="1" fill="#000"/><rect x="1877" y="142" width="3" height="1" fill="#000"/><rect x="1874" y="149" width="6" height="1" fill="#000"/><rect x="1877" y="156" width="3" height="1" fill="#000"/><rect x="1877" y="163" width="3" height="1" fill="#000"/><rect x="1877" y="170" width="3" height="1" fill="#000"/><rect x="1877" y="177" width="3" height="1" fill="#000"/><rect x="1877" y="183" width="3" height="1" fill="#000"/><rect x="1877" y="190" width="3" height="1" fill="#000"/><rect x="1877" y="197" width="3" height="1" fill="#000"/><rect x="1877" y="204" width="3" height="1" fill="#000"/><rect x="1877" y="211" width="3" height="1" fill="#000"/><rect x="1874" y="218" width="6" height="1" fill="#000"/><rect x="1877" y="225" width="3" height="1" fill="#000"/><rect x="1877" y="231" width="3" height="1" fill="#000"/><rect x="1877" y="238" width="3" height="1" fill="#000"/><rect x="1877" y="245" width="3" height="1" fill="#000"/><rect x="1877" y="252" width="3" height="1" fill="#000"/><rect x="1877" y="259" width="3" height="1" fill="#000"/><rect x="1877" y="266" width="3" height="1" fill="#000"/><rect x="1877" y="273" width="3" height="1" fill="#000"/><rect x="1877" y="280" width="3" height="1" fill="#000"/><rect x="1874" y="286" width="6" height="1" fill="#000"/><rect x="1877" y="293" width="3" height="1" fill="#000"/><rect x="1877" y="300" width="3" height="1" fill="#000"/><rect x="1877" y="307" width="3" height="1" fill="#000"/><rect x="1877" y="314" width="3" height="1" fill="#000"/><rect x="1877" y="321" width="3" height="1" fill="#000"/><rect x="1877" y="328" width="3" height="1" fill="#000"/><rect x="1877" y="334" width="3" height="1" fill="#000"/><rect x="1877" y="341" width="3" height="1" fill="#000"/><rect x="1877" y="348" width="3" height="1" fill="#000"/><rect x="1874" y="355" width="6" height="1" fill="#000"/><rect x="1877" y="362" width="3" height="1" fill="#000"/><rect x="1877" y="369" width="3" height="1" fill="#000"/><rect x="1877" y="376" width="3" height="1" fill="#000"/><rect x="1877" y="382" width="3" height="1" fill="#000"/><rect x="1877" y="389" width="3" height="1" fill="#000"/><rect x="1877" y="396" width="3" height="1" fill="#000"/><rect x="1877" y="403" width="3" height="1" fill="#000"/><rect x="1877" y="410" width="3" height="1" fill="#000"/><rect x="1877" y="417" width="3" height="1" fill="#000"/><rect x="1874" y="424" width="6" height="1" fill="#000"/><rect x="1877" y="430" width="3" height="1" fill="#000"/><rect x="1877" y="437" width="3" height="1" fill="#000"/><rect x="1877" y="444" width="3" height="1" fill="#000"/><rect x="1877" y="451" width="3" height="1" fill="#000"/><rect x="1877" y="458" width="3" height="1" fill="#000"/><rect x="1877" y="465" width="3" height="1" fill="#000"/><rect x="1877" y="472" width="3" height="1" fill="#000"/><rect x="1877" y="478" width="3" height="1" fill="#000"/><rect x="1877" y="485" width="3" height="1" fill="#000"/><rect x="1874" y="492" width="6" height="1" fill="#000"/><rect x="1877" y="499" width="3" height="1" fill="#000"/><rect x="1877" y="506" width="3" height="1" fill="#000"/><rect x="1877" y="513" width="3" height="1" fill="#000"/><rect x="1877" y="520" width="3" height="1" fill="#000"/><rect x="1877" y="526" width="3" height="1" fill="#000"/><rect x="1877" y="533" width="3" height="1" fill="#000"/><rect x="1877" y="540" width="3" height="1" fill="#000"/><rect x="1877" y="547" width="3" height="1" fill="#000"/><rect x="1877" y="554" width="3" height="1" fill="#000"/><rect x="1874" y="561" width="6" height="1" fill="#000"/><rect x="1877" y="568" width="3" height="1" fill="#000"/><rect x="1877" y="574" width="3" height="1" fill="#000"/><rect x="1877" y="581" width="3" height="1" fill="#000"/><rect x="1877" y="588" width="3" height="1" fill="#000"/><rect x="1877" y="595" width="3" height="1" fill="#000"/><rect x="1877" y="602" width="3" height="1" fill="#000"/><rect x="1877" y="609" width="3" height="1" fill="#000"/><rect x="1877" y="616" width="3" height="1" fill="#000"/><rect x="1877" y="622" width="3" height="1" fill="#000"/><rect x="1874" y="629" width="6" height="1" fill="#000"/><rect x="1877" y="636" width="3" height="1" fill="#000"/><rect x="1877" y="643" width="3" height="1" fill="#000"/><rect x="1877" y="650" width="3" height="1" fill="#000"/><rect x="1877" y="657" width="3" height="1" fill="#000"/><rect x="1877" y="664" width="3" height="1" fill="#000"/><rect x="1877" y="670" width="3" height="1" fill="#000"/><rect x="1877" y="677" width="3" height="1" fill="#000"/><rect x="1877" y="684" width="3" height="1" fill="#000"/><rect x="1877" y="691" width="3" height="1" fill="#000"/><rect x="1874" y="698" width="6" height="1" fill="#000"/><rect x="1877" y="705" width="3" height="1" fill="#000"/><rect x="1877" y="712" width="3" height="1" fill="#000"/><rect x="1877" y="718" width="3" height="1" fill="#000"/><rect x="1877" y="725" width="3" height="1" fill="#000"/><rect x="1877" y="732" width="3" height="1" fill="#000"/><rect x="1877" y="739" width="3" height="1" fill="#000"/><rect x="1877" y="746" width="3" height="1" fill="#000"/><rect x="1877" y="753" width="3" height="1" fill="#000"/><rect x="1877" y="760" width="3" height="1" fill="#000"/><rect x="1874" y="767" width="6" height="1" fill="#000"/><rect x="1877" y="773" width="3" height="1" fill="#000"/><rect x="1877" y="780" width="3" height="1" fill="#000"/><rect x="1877" y="787" width="3" height="1" fill="#000"/><rect x="1877" y="794" width="3" height="1" fill="#000"/><rect x="1877" y="801" width="3" height="1" fill="#000"/><rect x="1877" y="808" width="3" height="1" fill="#000"/><rect x="1877" y="815" width="3" height="1" fill="#000"/><rect x="1877" y="821" width="3" height="1" fill="#000"/><rect x="1877" y="828" width="3" height="1" fill="#000"/><rect x="1874" y="835" width="6" height="1" fill="#000"/><rect x="1877" y="842" width="3" height="1" fill="#000"/><rect x="1877" y="849" width="3" height="1" fill="#000"/><rect x="1877" y="856" width="3" height="1" fill="#000"/><rect x="1877" y="863" width="3" height="1" fill="#000"/><rect x="1877" y="869" width="3" height="1" fill="#000"/>
<rect x="142" y="877" width="1" height="4" fill="#000"/>
<rect x="242" y="877" width="1" height="4" fill="#000"/>
<rect x="347" y="877" width="1" height="4" fill="#000"/>
<rect x="452" y="877" width="1" height="4" fill="#000"/>
<rect x="567" y="877" width="1" height="4" fill="#000"/>
<rect x="667" y="877" width="1" height="4" fill="#000"/>
<rect x="782" y="877" width="1" height="4" fill="#000"/>
<rect x="892" y="877" width="1" height="4" fill="#000"/>
<rect x="997" y="877" width="1" height="4" fill="#000"/>
<rect x="1112" y="877" width="1" height="4" fill="#000"/>
<rect x="1217" y="877" width="1" height="4" fill="#000"/>
<rect x="1322" y="877" width="1" height="4" fill="#000"/>
<rect x="1432" y="877" width="1" height="4" fill="#000"/>
<rect x="1532" y="877" width="1" height="4" fill="#000"/>
<rect x="1642" y="877" width="1" height="4" fill="#000"/>
<rect x="1752" y="877" width="1" height="4" fill="#000"/>
<rect x="1857" y="877" width="1" height="4" fill="#000"/>
<rect x="0" y="0" width="1918" height="1" fill="#000"/><rect x="0" y="0" width="1" height="898" fill="#000"/>
<rect x="1917" y="0" width="1" height="898" fill="#000"/><rect x="0" y="897" width="1918" height="1" fill="#000"/>
</g>
<text class="ar" x="1883.5" y="839.6" font-size="12">44.00</text>
<text class="ar" x="1883.5" y="771.6" font-size="12">46.00</text>
<text class="ar" x="1883.5" y="702.6" font-size="12">48.00</text>
<text class="ar" x="1883.5" y="633.6" font-size="12">50.00</text>
<text class="ar" x="1883.5" y="565.6" font-size="12">52.00</text>
<text class="ar" x="1883.5" y="496.6" font-size="12">54.00</text>
<text class="ar" x="1883.5" y="428.6" font-size="12">56.00</text>
<text class="ar" x="1883.5" y="359.6" font-size="12">58.00</text>
<text class="ar" x="1883.5" y="290.6" font-size="12">60.00</text>
<text class="ar" x="1883.5" y="222.6" font-size="12">62.00</text>
<text class="ar" x="1883.5" y="153.6" font-size="12">64.00</text>
<text class="ar" x="1883.5" y="85.6" font-size="12">66.00</text>
<text class="ar" x="1883.5" y="16.6" font-size="12">68.00</text>
<text class="ar" x="142.5" y="894" font-size="12" text-anchor="middle">Feb-2019</text>
<text class="ar" x="242.5" y="894" font-size="12" text-anchor="middle">Mar-2019</text>
<text class="ar" x="347.5" y="894" font-size="12" text-anchor="middle">Apr-2019</text>
<text class="ar" x="452.5" y="894" font-size="12" text-anchor="middle">May-2019</text>
<text class="ar" x="567.5" y="894" font-size="12" text-anchor="middle">Jun-2019</text>
<text class="ar" x="667.5" y="894" font-size="12" text-anchor="middle">Jul-2019</text>
<text class="ar" x="782.5" y="894" font-size="12" text-anchor="middle">Aug-2019</text>
<text class="ar" x="892.5" y="894" font-size="12" text-anchor="middle">Sep-2019</text>
<text class="ar" x="997.5" y="894" font-size="12" text-anchor="middle">Oct-2019</text>
<text class="ar" x="1112.5" y="894" font-size="12" text-anchor="middle">Nov-2019</text>
<text class="ar" x="1217.5" y="894" font-size="12" text-anchor="middle">Dec-2019</text>
<text class="ar" x="1322.5" y="894" font-size="12" text-anchor="middle">Jan-2020</text>
<text class="ar" x="1432.5" y="894" font-size="12" text-anchor="middle">Feb-2020</text>
<text class="ar" x="1532.5" y="894" font-size="12" text-anchor="middle">Mar-2020</text>
<text class="ar" x="1642.5" y="894" font-size="12" text-anchor="middle">Apr-2020</text>
<text class="ar" x="1752.5" y="894" font-size="12" text-anchor="middle">May-2020</text>
<path d="M1875.5 547.5L1881.5 540.5H1916.5V554.5H1881.5z" fill="#fff" stroke="#383838" stroke-width="1.3"/>
<rect x="1881" y="554" width="36" height="1.6" fill="#303030"/>
<text class="ar" x="1883.5" y="552" font-size="12">52.39</text>
<text class="ar" x="7" y="17" font-size="13" font-weight="bold" textLength="98" lengthAdjust="spacingAndGlyphs">WTIUSD - 1 day</text>
<text class="ar" x="9.5" y="34.2" font-size="11" fill="#5f9ea0" textLength="84.5" lengthAdjust="spacingAndGlyphs">BB(20,20,2.0,2.0)</text>
</svg></body></html>
